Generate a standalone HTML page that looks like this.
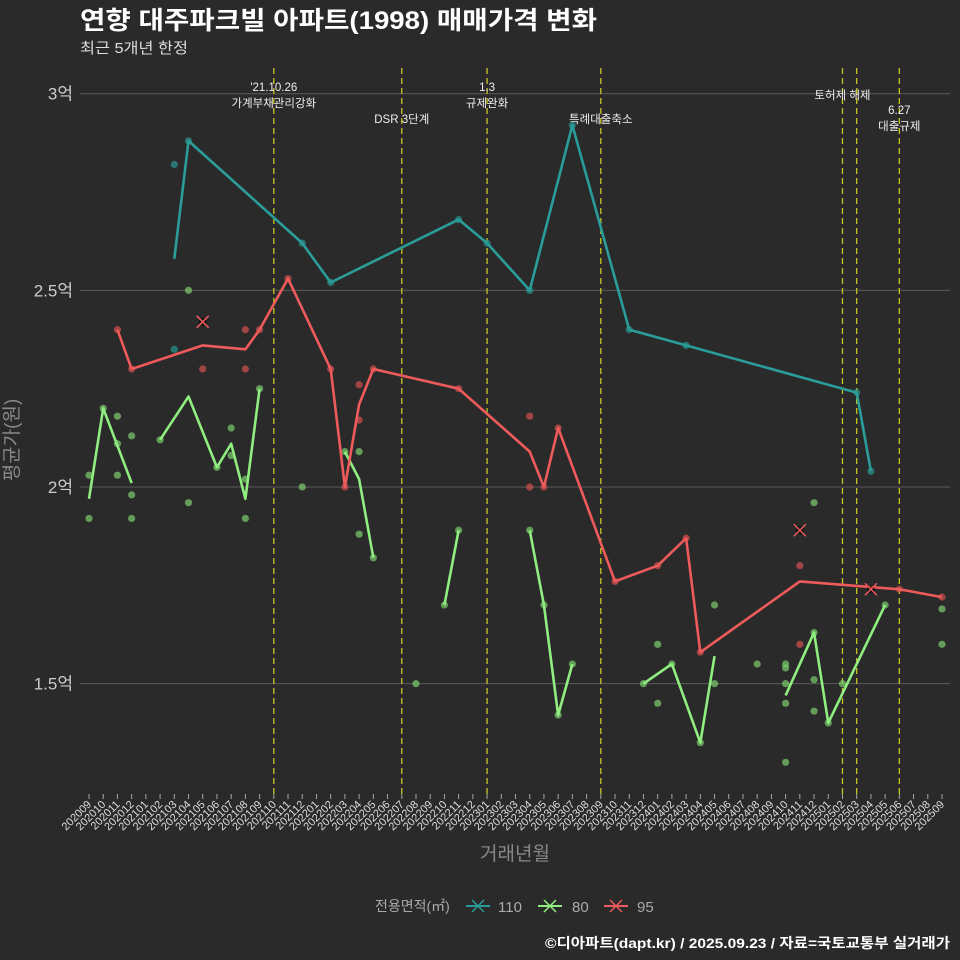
<!DOCTYPE html>
<html><head><meta charset="utf-8">
<style>
body{margin:0;background:#2a2a2a;}
svg{display:block;font-family:"Liberation Sans","Noto Sans CJK KR",sans-serif;}
</style></head>
<body>
<svg id="chart" width="960" height="960" viewBox="0 0 960 960">
<rect width="960" height="960" fill="#2a2a2a"/>
<text x="80" y="29" fill="#fff" font-size="25" font-weight="bold" textLength="517" lengthAdjust="spacingAndGlyphs">연향 대주파크빌 아파트(1998) 매매가격 변화</text>
<text x="80" y="53" fill="#ddd" font-size="15" textLength="108" lengthAdjust="spacingAndGlyphs">최근 5개년 한정</text>
<g id="grid"></g><g id="events"></g><g id="marks"></g><g id="axes"></g>
<text x="18" y="440" fill="#888" font-size="19" transform="rotate(-90 18 440)" text-anchor="middle">평균가(원)</text>
<text x="515" y="860" fill="#888" font-size="19" text-anchor="middle">거래년월</text>
<g>
<text x="375" y="911" fill="#aaa" font-size="14">전용면적(㎡)</text>
<g><line x1="466" y1="906" x2="490" y2="906" stroke="#2a9d9a" stroke-width="2"/><path d="M472 900l12 12M484 900l-12 12" stroke="#2a9d9a" stroke-width="1.5"/><text x="498" y="912" fill="#aaa" font-size="15">110</text></g>
<g><line x1="538" y1="906" x2="562" y2="906" stroke="#90ee80" stroke-width="2"/><path d="M544 900l12 12M556 900l-12 12" stroke="#90ee80" stroke-width="1.5"/><text x="572" y="912" fill="#aaa" font-size="15">80</text></g>
<g><line x1="604" y1="906" x2="628" y2="906" stroke="#ef5b5b" stroke-width="2"/><path d="M610 900l12 12M622 900l-12 12" stroke="#ef5b5b" stroke-width="1.5"/><text x="637" y="912" fill="#aaa" font-size="15">95</text></g>
</g>
<text x="950" y="948" fill="#fff" font-size="14" font-weight="bold" text-anchor="end" textLength="405" lengthAdjust="spacingAndGlyphs">©디아파트(dapt.kr) / 2025.09.23 / 자료=국토교통부 실거래가</text>
</svg>
<script>
const NS="http://www.w3.org/2000/svg";
// data
const yTicks=[1.5,2,2.5,3];
const yTickLabels=["1.5억","2억","2.5억","3억"];
const line110Months=[6,7,15,17,26,28,31,34,38,42,54,55];
const line110Vals=[2.58,2.88,2.62,2.52,2.68,2.62,2.50,2.92,2.40,2.36,2.24,2.04];
const line95Months=[2,3,8,11,12,14,17,18,19,20,26,31,32,33,37,40,42,43,50,57,60];
const line95Vals=[2.40,2.30,2.36,2.35,2.40,2.53,2.30,2.00,2.21,2.30,2.25,2.09,2.00,2.15,1.76,1.80,1.87,1.58,1.76,1.74,1.72];
const line80Segments=[[0,1,3],[5,7,9,10,11,12],[18,19,20],[25,26],[31,32,33,34],[39,41,43,44],[49,51,52,56]];
const line80SegVals=[[1.97,2.20,2.01],[2.12,2.23,2.05,2.11,1.97,2.25],[2.09,2.02,1.82],[1.70,1.89],[1.89,1.70,1.42,1.55],[1.50,1.55,1.35,1.57],[1.47,1.63,1.40,1.70]];
const dot110Months=[6,6,7,15,17,26,28,31,34,38,42,54,55];
const dot110Vals=[2.82,2.35,2.88,2.62,2.52,2.68,2.62,2.50,2.92,2.40,2.36,2.24,2.04];
const dot95Months=[2,3,8,11,11,12,14,17,18,19,19,20,26,31,31,32,33,37,40,42,43,50,50,57,60];
const dot95Vals=[2.40,2.30,2.30,2.40,2.30,2.40,2.53,2.30,2.00,2.26,2.17,2.30,2.25,2.18,2.00,2.00,2.15,1.76,1.80,1.87,1.58,1.80,1.60,1.74,1.72];
const x95Months=[8,50,55];
const x95Vals=[2.42,1.89,1.74];
const dot80Months=[0,0,1,2,2,2,3,3,3,5,7,7,9,10,10,11,11,12,15,18,19,19,20,23,25,26,31,32,33,34,39,40,40,41,43,44,44,47,49,49,49,49,49,51,51,51,51,52,53,56,60,60];
const dot80Vals=[2.03,1.92,2.20,2.18,2.11,2.03,2.13,1.98,1.92,2.12,2.50,1.96,2.05,2.15,2.08,2.02,1.92,2.25,2.00,2.09,2.09,1.88,1.82,1.50,1.70,1.89,1.89,1.70,1.42,1.55,1.50,1.60,1.45,1.55,1.35,1.70,1.50,1.55,1.55,1.54,1.50,1.45,1.30,1.96,1.51,1.43,1.63,1.40,1.50,1.70,1.69,1.60];
const months=[];for(let y=2020,m=9;y<2025||(y===2025&&m<=9);){months.push(""+y+(m<10?"0":"")+m);m++;if(m>12){m=1;y++;}}
const eventMonths=[13,22,28,36,53,54,57];
const eventLabels=[["'21.10.26","가계부채관리강화"],["","DSR 3단계"],["1.3","규제완화"],["","특례대출축소"],["","토허제 해제"],["",""],["6.27","대출규제"]];
const eventLabelY=[[91,107],[0,123],[91,107],[0,123],[0,99],[0,0],[114,130]];
// scales
const X=i=>89+i*(942-89)/60;
const Y=v=>487-(v-2)*393.3;
function el(tag,attrs,parent){const e=document.createElementNS(NS,tag);for(const k in attrs)e.setAttribute(k,attrs[k]);parent.appendChild(e);return e;}
const grid=document.getElementById('grid'),axes=document.getElementById('axes'),marks=document.getElementById('marks'),events=document.getElementById('events');
yTicks.forEach((t,i)=>{
 const g=el('line',{x1:80,x2:950,y1:Y(t),y2:Y(t),stroke:'#5a5a5a','stroke-width':1},grid);
 
 
 const tx=el('text',{x:73,y:Y(t)+6,fill:'#ccc','font-size':17,'text-anchor':'end'},axes);
 tx.textContent=yTickLabels[i];
 
 
});
months.forEach((m,i)=>{
 const x=X(i);
 const tk=el('line',{x1:x,x2:x,y1:794,y2:799,stroke:'#aaa'},axes);
 
 
 const tx=el('text',{x:x+3,y:805,fill:'#ddd','font-size':11,'text-anchor':'end',transform:`rotate(-45 ${x+3} 805)`},axes);
 tx.textContent=m;
 
 
});
eventMonths.forEach((mi,k)=>{
 const x=X(mi);
 const l=el('line',{x1:x,x2:x,y1:68,y2:794,stroke:'#c8c820','stroke-width':1.3,'stroke-dasharray':'6,4'},events);
 
 
 eventLabels[k].forEach((s,j)=>{ if(!s)return;
  const t=el('text',{x:x,y:eventLabelY[k][j],fill:'#eee','font-size':11.5,'text-anchor':'middle'},events);
  t.textContent=s;
  
  
 });
});
function drawDots(ms,vs,color,name){ms.forEach((m,i)=>{
 const c=el('circle',{cx:X(m),cy:Y(vs[i]),r:3.6,fill:color,'fill-opacity':0.7},marks);
 
 
});}
function drawLine(ms,vs,color,name){
 const p=el('polyline',{points:ms.map((m,i)=>X(m)+','+Y(vs[i])).join(' '),fill:'none',stroke:color,'stroke-width':2.6,'stroke-linejoin':'round'},marks);
 
 
}
drawDots(dot80Months,dot80Vals,'#7dce6e','point-80');
drawDots(dot95Months,dot95Vals,'#d65050','point-95');
drawDots(dot110Months,dot110Vals,'#2a9590','point-110');
line80Segments.forEach((s,i)=>drawLine(s,line80SegVals[i],'#90ee80','line-80'));
drawLine(line95Months,line95Vals,'#ef5b5b','line-95');
drawLine(line110Months,line110Vals,'#2a9d9a','line-110');
x95Months.forEach((m,i)=>{
 const x=X(m),y=Y(x95Vals[i]);
 const c=el('circle',{cx:x,cy:y,r:4,fill:'#000','fill-opacity':0.6},marks);
 
 
 const p=el('path',{d:`M${x-6} ${y-6}l12 12M${x+6} ${y-6}l-12 12`,stroke:'#ef5b5b','stroke-width':1.5},marks);
 
 
});
</script>
</body></html>
